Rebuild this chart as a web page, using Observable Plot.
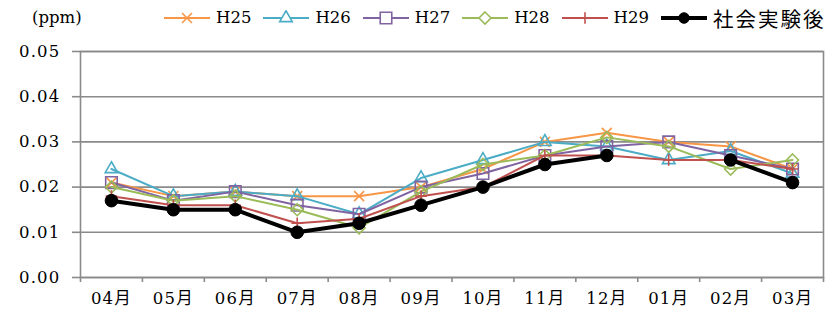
<!DOCTYPE html>
<html>
<head>
<meta charset="utf-8">
<script src="https://cdn.jsdelivr.net/npm/d3@7"></script>
<script src="https://cdn.jsdelivr.net/npm/@observablehq/plot@0.6"></script>
<style>
  body { margin: 0; background: #fff; }
  #wrap { width: 827px; height: 323px; position: relative; overflow: hidden;
          font-family: "DejaVu Serif", "Noto Sans CJK JP", serif; color: #000; }
  #legend { position: relative; height: 36px; }
  #unit { position: absolute; left: 32px; top: 6px; font-size: 16.5px; letter-spacing: 0px; line-height: 24px; }
  #items { position: absolute; left: 164px; top: 6px; height: 24px; display: flex; align-items: center; }
  .item { display: flex; align-items: center; margin-right: 12px; }
  .item svg { display: block; margin-right: 6px; }
  .item span { font-size: 16.5px; letter-spacing: 0px; line-height: 24px; white-space: nowrap; }
  .item span.cjk { font-family: "Noto Sans CJK JP", sans-serif; font-size: 20.5px; letter-spacing: 2px; }
  #chart svg text { letter-spacing: 1.2px; }
</style>
</head>
<body>
<div id="wrap">
  <div id="legend"><div id="unit"></div><div id="items"></div></div>
  <div id="chart"></div>
</div>
<script>
// ---- data ----
const months = ["04月","05月","06月","07月","08月","09月","10月","11月","12月","01月","02月","03月"];
const seriesNames = ["H25","H26","H27","H28","H29","社会実験後"];
const unitLabel = "(ppm)";
const yTicks = [0, 0.01, 0.02, 0.03, 0.04, 0.05];

const h25 = [0.021, 0.018, 0.019, 0.018, 0.018, 0.020, 0.024, 0.030, 0.032, 0.030, 0.029, 0.024];
const h26 = [0.024, 0.018, 0.019, 0.018, 0.014, 0.022, 0.026, 0.030, 0.029, 0.026, 0.028, 0.023];
const h27 = [0.021, 0.017, 0.019, 0.016, 0.014, 0.020, 0.023, 0.027, 0.029, 0.030, 0.027, 0.024];
const h28 = [0.020, 0.017, 0.018, 0.015, 0.011, 0.019, 0.025, 0.027, 0.031, 0.029, 0.024, 0.026];
const h29 = [0.018, 0.016, 0.016, 0.012, 0.013, 0.018, 0.020, 0.027, 0.027, 0.026, 0.026, 0.024];
const afterExp = [0.017, 0.015, 0.015, 0.010, 0.012, 0.016, 0.020, 0.025, 0.027, null, 0.026, 0.021];

const seriesValues = [h25, h26, h27, h28, h29, afterExp];

// ---- styles ----
const styles = [
  {color: "#F79646", symbol: "times",     d3sym: d3.symbolTimes,     r: 4.6, width: 2,   fill: "none"},
  {color: "#4BACC6", symbol: "triangle2", d3sym: d3.symbolTriangle2, r: 6,   width: 2,   fill: "none"},
  {color: "#8064A2", symbol: "square",    d3sym: d3.symbolSquare,    r: 6.5, width: 2,   fill: "none"},
  {color: "#9BBB59", symbol: "diamond2",  d3sym: d3.symbolDiamond2,  r: 5.4, width: 2,   fill: "none"},
  {color: "#C0504D", symbol: "plus",      d3sym: d3.symbolPlus,      r: 3.8, width: 2,   fill: "none"},
  {color: "#000000", symbol: "circle",    d3sym: d3.symbolCircle,    r: 6.3, width: 4,   fill: "#000000"}
];

const rows = [];
seriesNames.forEach((name, s) => {
  seriesValues[s].forEach((v, i) => rows.push({series: name, month: months[i], x: i + 0.5, value: v}));
});

const seriesMarks = [];
seriesNames.forEach((name, s) => {
  const st = styles[s];
  const data = rows.filter(r => r.series === name);
  seriesMarks.push(Plot.line(data, {x: "x", y: "value", stroke: st.color, strokeWidth: st.width}));
  seriesMarks.push(Plot.dot(data.filter(d => d.value != null), {
    x: "x", y: "value", symbol: st.symbol, r: st.r,
    stroke: st.color, fill: st.fill, strokeWidth: s === 5 ? 1 : 1.6
  }));
});

const grey = "#8a8a8a";
const chart = Plot.plot({
  width: 827,
  height: 287,
  marginTop: 15,
  marginBottom: 46,
  marginLeft: 80,
  marginRight: 4,
  style: {fontFamily: '"DejaVu Serif", "Noto Sans CJK JP", serif', fontSize: "16.5px", color: "#000", background: "transparent"},
  x: {domain: [0, 12], axis: null},
  y: {domain: [0, 0.05], axis: null},
  marks: [
    Plot.gridY(yTicks, {stroke: grey, strokeOpacity: 1, strokeWidth: 1.6}),
    Plot.frame({stroke: grey, strokeWidth: 1.6}),
    Plot.axisY({ticks: yTicks, tickFormat: d => d.toFixed(2), tickSize: 8, tickPadding: 12,
                stroke: grey, strokeWidth: 1.6, fill: "#000", fontSize: 16.5, label: null}),
    Plot.axisX({ticks: d3.range(months.length + 1), tickFormat: () => "", tickSize: 5,
                stroke: grey, strokeWidth: 1.6, label: null}),
    Plot.axisX({ticks: months.map((m, i) => i + 0.5), tickFormat: v => months[Math.floor(v)],
                tickSize: 0, tickPadding: 15, fill: "#000", fontSize: 16.5, label: null}),
    ...seriesMarks
  ]
});
document.getElementById("chart").appendChild(chart);

// ---- legend ----
document.getElementById("unit").textContent = unitLabel;
const items = d3.select("#items");
seriesNames.forEach((name, s) => {
  const st = styles[s];
  const it = items.append("div").attr("class", "item");
  const svg = it.append("svg").attr("width", 46).attr("height", 16);
  svg.append("line").attr("x1", 0).attr("x2", 46).attr("y1", 8).attr("y2", 8)
     .attr("stroke", st.color).attr("stroke-width", st.width);
  const size = Math.PI * st.r * st.r * (s === 5 ? 0.7 : 1);
  svg.append("path").attr("transform", "translate(23,8)")
     .attr("d", d3.symbol(st.d3sym, size)())
     .attr("fill", st.fill === "none" ? "#fff" : st.fill)
     .attr("stroke", st.color).attr("stroke-width", s === 5 ? 1 : 1.6);
  it.append("span").attr("class", /[^\x00-\x7F]/.test(name) ? "cjk" : null).text(name);
});
</script>
</body>
</html>
